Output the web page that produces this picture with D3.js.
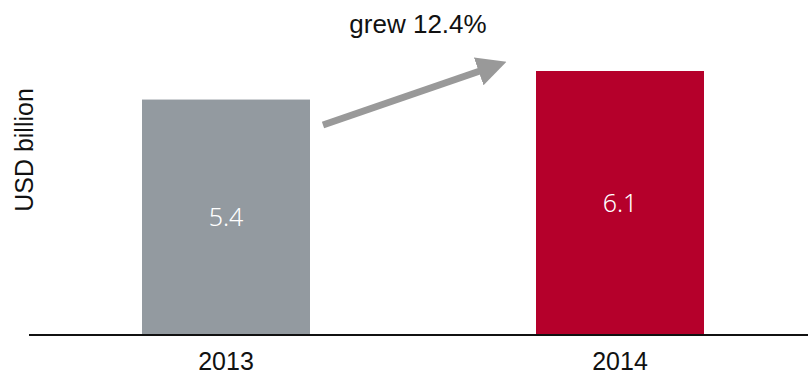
<!DOCTYPE html>
<meta charset="utf-8">
<head>
    <script type="text/javascript" src="https://cdn.jsdelivr.net/npm/d3@7"></script>
    <style>
        body { margin: 0; background: #fff; }
        text { font-family: "Liberation Sans", Arial, sans-serif; }
    </style>
</head>
<body>
<div id="chart"></div>
</body>
<script>
    // data
    var years = ["2013", "2014"];
    var values = [5.44, 6.1];
    var barColors = ["#939aa0", "#b5002b"];
    var growthLabel = "grew 12.4%";
    var yLabel = "USD billion";

    var width = 808, height = 376;
    var baseY = 335;

    var svg = d3.select("#chart").append("svg")
        .attr("width", width)
        .attr("height", height);

    var x = d3.scaleBand()
        .domain(years)
        .range([29, 817])
        .paddingInner(0.5736)
        .paddingOuter(0.2868);

    var y = d3.scaleLinear()
        .domain([0, 6.1])
        .range([baseY, 71]);

    var data = years.map(function (yr, i) {
        return {year: yr, value: values[i], color: barColors[i]};
    });

    // bars
    svg.selectAll("rect.bar")
        .data(data)
        .enter().append("rect")
        .attr("class", "bar")
        .attr("x", d => x(d.year))
        .attr("y", d => y(d.value))
        .attr("width", x.bandwidth())
        .attr("height", d => baseY - y(d.value))
        .attr("fill", d => d.color);

    // value labels in the middle of each bar
    svg.selectAll("text.val")
        .data(data)
        .enter().append("text")
        .attr("class", "val")
        .attr("x", d => x(d.year) + x.bandwidth() / 2)
        .attr("y", d => (y(d.value) + baseY) / 2)
        .attr("dy", "0.36em")
        .attr("text-anchor", "middle")
        .attr("fill", "#fff")
        .style("font-family", "'Noto Sans', sans-serif")
        .style("font-weight", 300)
        .style("font-size", "25px")
        .text(d => d3.format(".1f")(d.value));

    // baseline axis
    var xAxis = d3.axisBottom(x).tickSize(0).tickPadding(17);
    var gx = svg.append("g")
        .attr("transform", "translate(0," + baseY + ")")
        .call(xAxis);
    gx.select(".domain").remove();
    gx.append("line")
        .attr("x1", 29).attr("x2", width)
        .attr("y1", 0).attr("y2", 0)
        .attr("stroke", "#111")
        .attr("stroke-width", 2);
    gx.selectAll(".tick text")
        .attr("fill", "#111")
        .style("font-family", "'Liberation Sans', Arial, sans-serif")
        .style("font-size", "25px");

    // y label
    svg.append("text")
        .attr("transform", "translate(33,150) rotate(-90)")
        .attr("text-anchor", "middle")
        .attr("fill", "#111")
        .style("font-size", "25px")
        .text(yLabel);

    // growth arrow: from right of 2013 bar up toward 2014 bar
    var start = [x(years[0]) + x.bandwidth() + 13, 125];
    var tip = [x(years[1]) - 30, 62];
    var headLen = 23;
    var dx = tip[0] - start[0], dy = tip[1] - start[1];
    var len = Math.sqrt(dx * dx + dy * dy);
    var end = [tip[0] - headLen * dx / len, tip[1] - headLen * dy / len];

    svg.append("defs").append("marker")
        .attr("id", "head")
        .attr("viewBox", "0 0 10 10")
        .attr("refX", 2).attr("refY", 5)
        .attr("markerWidth", 4.2).attr("markerHeight", 4.2)
        .attr("orient", "auto")
        .append("path")
        .attr("d", "M0,0 L10,5 L0,10 Z")
        .attr("fill", "#999");
    svg.append("line")
        .attr("x1", start[0]).attr("y1", start[1])
        .attr("x2", end[0]).attr("y2", end[1])
        .attr("stroke", "#999")
        .attr("stroke-width", 7)
        .attr("marker-end", "url(#head)");

    svg.append("text")
        .attr("x", 418)
        .attr("y", 33)
        .attr("text-anchor", "middle")
        .attr("fill", "#111")
        .style("font-size", "26px")
        .text(growthLabel);
</script>
</html>
